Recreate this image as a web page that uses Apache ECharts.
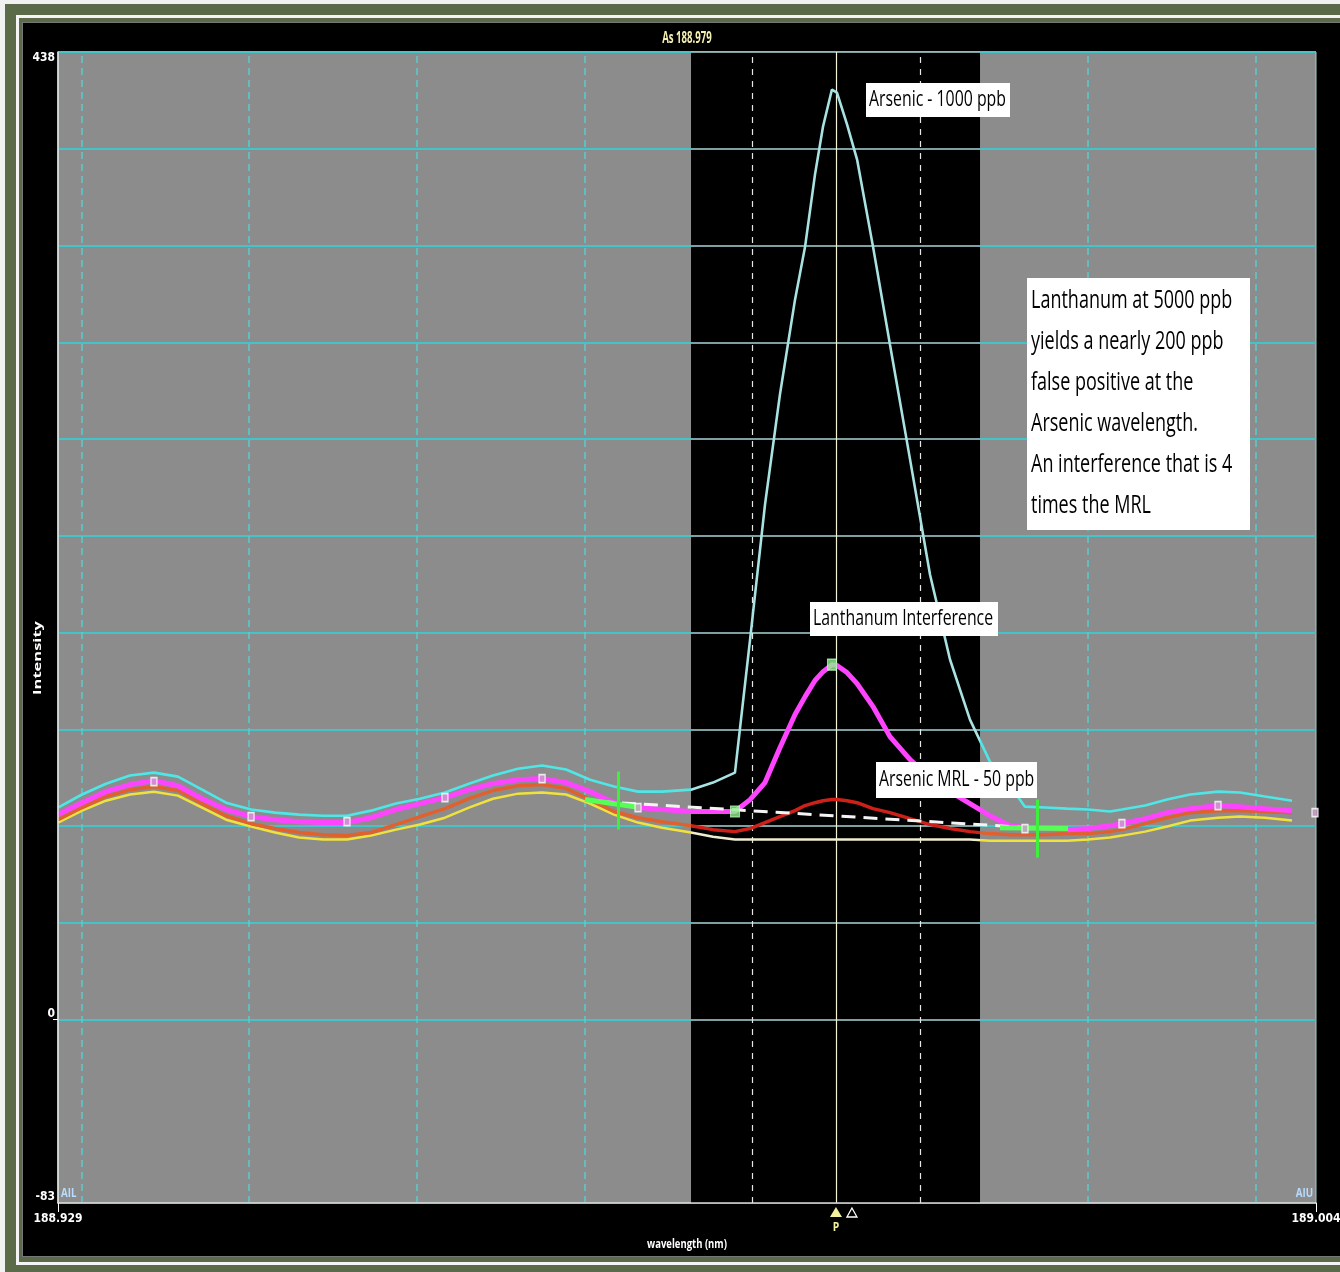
<!DOCTYPE html>
<html>
<head>
<meta charset="utf-8">
<script src="https://cdn.jsdelivr.net/npm/echarts@6/dist/echarts.min.js"></script>
<style>
  body { margin: 0; background: #f1f1f1; overflow: hidden; }
  #frame { position: absolute; left: 5px; top: 4px; width: 1335px; height: 1268px; background: #5b6a48; }
  #rule { position: absolute; left: 16px; top: 15px; width: 1330px; height: 1244px; border: 3px solid #f4f4f4; }
  #panel { position: absolute; left: 23px; top: 23px; width: 1317px; height: 1233px; background: #000; box-shadow: 0 0 0 1px #777; }
  #chart { position: absolute; left: 0; top: 0; width: 1340px; height: 1272px; }
</style>
</head>
<body>
<div id="frame"></div>
<div id="rule"></div>
<div id="panel"></div>
<div id="chart"></div>
<script>
// axis range
const wlMin = 188.929, wlMax = 189.004;
const yMin = -83, yMax = 438;
const axisLabelsX = [188.929, 189.004];
const axisLabelsY = [-83, 0, 438];

// shaded peak window and the peak line
const bandStart = 188.96674, bandEnd = 188.98397;
const peakLine = 188.97538;

// grid lines
const gridLevels = [0, 43.8, 87.6, 131.4, 175.2, 219, 262.8, 306.6, 350.4, 394.2, 438];
const gridWl = [188.9304, 188.9404, 188.9504, 188.9604, 188.9704, 188.9804, 188.9904, 189.0004];

// spectra (wavelength in nm, intensity)
const wavelength = [
  188.92900, 188.93043, 188.93186, 188.93329, 188.93472, 188.93615, 188.93759, 188.93902,
  188.94051, 188.94194, 188.94337, 188.94480, 188.94623, 188.94766, 188.94915, 188.95058,
  188.95207, 188.95350, 188.95493, 188.95642, 188.95786, 188.95929, 188.96072, 188.96215,
  188.96358, 188.96501, 188.96674, 188.96805, 188.96936, 188.97026, 188.97115, 188.97204,
  188.97294, 188.97354, 188.97413, 188.97461, 188.97514, 188.97544, 188.97604, 188.97664,
  188.97759, 188.97860, 188.97980, 188.98099, 188.98218, 188.98337, 188.98456, 188.98576,
  188.98665, 188.98784, 188.98916, 188.99041, 188.99172, 188.99243, 188.99381, 188.99512,
  188.99649, 188.99816, 188.99947, 189.00096, 189.00257
];
const arsenic1000 = [
  96.0, 101.9, 106.8, 110.5, 111.8, 110.0, 104.1, 98.2,
  95.1, 93.7, 92.8, 92.3, 92.3, 94.6, 97.8, 100.0,
  102.8, 106.8, 110.5, 113.6, 115.0, 113.2, 108.6, 105.5,
  103.2, 103.2, 104.1, 107.3, 111.8, 172.0, 233.1, 282.9,
  325.9, 349.9, 382.5, 404.3, 421.0, 419.6, 405.2, 389.3,
  349.9, 305.6, 253.5, 201.4, 163.0, 135.8, 116.8, 105.9,
  96.4, 96.0, 95.5, 95.1, 94.2, 95.1, 96.9, 99.6,
  101.9, 103.2, 102.8, 101.0, 99.1
];
const lanthanum5000 = [
  92.8, 98.2, 103.2, 106.4, 108.2, 105.9, 100.0, 95.1,
  91.9, 90.5, 89.6, 89.2, 89.2, 91.4, 95.1, 97.8,
  100.5, 104.1, 106.8, 108.6, 109.1, 107.3, 103.2, 98.2,
  96.0, 95.1, 94.2, 94.2, 94.2, 99.6, 107.3, 123.1,
  138.1, 146.2, 153.5, 157.5, 160.7, 160.3, 157.1, 152.1,
  141.7, 128.1, 117.7, 109.6, 103.2, 97.8, 92.3, 87.8,
  86.9, 86.5, 86.0, 86.5, 87.8, 88.7, 91.0, 93.7,
  95.5, 96.9, 96.4, 95.5, 94.6
];
const arsenicMrl = [
  90.5, 96.0, 101.0, 104.1, 105.5, 103.7, 97.8, 92.3,
  88.7, 86.5, 84.7, 83.7, 83.3, 84.7, 88.3, 91.9,
  95.5, 100.0, 103.7, 105.9, 106.4, 104.6, 99.6, 94.2,
  91.4, 89.6, 87.8, 86.0, 85.1, 86.5, 89.2, 91.9,
  94.6, 96.9, 98.2, 99.1, 99.6, 99.6, 99.1, 98.2,
  95.5, 93.7, 91.0, 88.3, 86.5, 85.1, 84.2, 83.7,
  83.7, 83.7, 84.2, 84.2, 85.1, 86.0, 88.7, 91.4,
  93.7, 94.6, 94.6, 94.2, 93.7
];
const blank = [
  89.2, 94.6, 99.1, 101.9, 103.2, 101.4, 96.0, 90.5,
  87.4, 84.7, 82.4, 81.5, 81.5, 83.3, 86.0, 88.3,
  91.4, 96.0, 100.0, 102.3, 102.8, 101.9, 97.8, 92.8,
  89.2, 86.9, 84.7, 82.8, 81.5, 81.5, 81.5, 81.5,
  81.5, 81.5, 81.5, 81.5, 81.5, 81.5, 81.5, 81.5,
  81.5, 81.5, 81.5, 81.5, 81.5, 81.5, 81.0, 81.0,
  81.0, 81.0, 81.0, 81.5, 82.4, 83.3, 85.1, 87.4,
  90.1, 91.4, 91.9, 91.4, 90.1
];

// background correction line and points
const baseWl = [188.96131, 188.98695];
const baseVal = [98.7, 86.9];
const markerWl = [188.93472, 188.94051, 188.94623, 188.95207, 188.95786, 188.96358, 188.98665, 188.99243, 188.99816, 189.00394];
const markerVal = [107.7, 91.9, 89.6, 100.5, 109.1, 96.0, 86.5, 88.7, 96.9, 93.7];
const peakPtWl = [188.96936, 188.97514];
const peakPtVal = [94.2, 160.7];

// background windows (green)
const crossWl = [188.96239, 188.98737];
const crossLow = [86.0, 73.3];
const crossHigh = [112.3, 99.6];
const winStartWl = [188.96042, 188.98516];
const winStartVal = [99.6, 86.9];
const winEndWl = [188.96370, 188.98922];
const winEndVal = [96.0, 86.5];

const toPairs = (xs, ys) => xs.map((x, i) => [x, ys[i]]);

const gridCyan = { color: '#44c4c8', width: 2, type: 'solid' };
const gridPale = { color: '#a9d6d6', width: 1.5, type: 'solid' };

const hLines = [];
gridLevels.forEach(v => {
  hLines.push([{ coord: [wlMin, v], lineStyle: gridCyan }, { coord: [bandStart, v] }]);
  hLines.push([{ coord: [bandStart, v], lineStyle: gridPale }, { coord: [bandEnd, v] }]);
  hLines.push([{ coord: [bandEnd, v], lineStyle: gridCyan }, { coord: [wlMax, v] }]);
});
const vLines = gridWl.map(w => {
  const inBand = w > bandStart && w < bandEnd;
  return {
    xAxis: w,
    lineStyle: inBand
      ? { color: '#e6e6e6', width: 1.2, type: [6, 6] }
      : { color: '#5ccaca', width: 1.5, type: [7, 5] }
  };
});
vLines.push({ xAxis: peakLine, lineStyle: { color: '#f2f0d8', width: 1.2, type: 'solid' } });

const greenLines = [];
crossWl.forEach((w, i) => {
  greenLines.push([{ coord: [winStartWl[i], winStartVal[i]], lineStyle: { color: '#55ff55', width: 5, type: 'solid' } }, { coord: [winEndWl[i], winEndVal[i]] }]);
  greenLines.push([{ coord: [w, crossLow[i]], lineStyle: { color: '#3cf03c', width: 3, type: 'solid' } }, { coord: [w, crossHigh[i]] }]);
});

const bandPieces = (outside, inside) => [
  { lt: bandStart, color: outside },
  { gte: bandStart, lte: bandEnd, color: inside },
  { gt: bandEnd, color: outside }
];

const labelFont = '"Liberation Sans Narrow", "DejaVu Sans Condensed", "Roboto", sans-serif';

const chart = echarts.init(document.getElementById('chart'));

chart.setOption({
  animation: false,
  backgroundColor: 'transparent',
  grid: {
    left: 58, top: 52, right: 24, bottom: 69, outerBoundsMode: 'none',
    show: true, backgroundColor: '#8c8c8c', borderWidth: 1, borderColor: '#a6cccc'
  },
  xAxis: {
    type: 'value', min: wlMin, max: wlMax, z: 10,
    axisLine: { onZero: false, lineStyle: { color: '#d8d8d8', width: 1.5 } },
    axisTick: { show: true, customValues: axisLabelsX, length: 9, lineStyle: { color: '#fff' } },
    axisLabel: { customValues: axisLabelsX, formatter: v => v.toFixed(3), color: '#fff', fontFamily: labelFont, fontWeight: 'bold', fontSize: 12, margin: 10 },
    splitLine: { show: false }
  },
  yAxis: {
    type: 'value', min: yMin, max: yMax, z: 10,
    axisLine: { show: true, lineStyle: { color: '#e6e6e6', width: 1.5 } },
    axisTick: { show: true, customValues: [0], length: 5, lineStyle: { color: '#fff' } },
    axisLabel: { customValues: axisLabelsY, color: '#fff', fontFamily: labelFont, fontWeight: 'bold', fontSize: 12, margin: 3, verticalAlign: 'bottom', verticalAlignMaxLabel: 'top' },
    splitLine: { show: false }
  },
  visualMap: [
    { type: 'piecewise', show: false, seriesIndex: 2, dimension: 0, pieces: bandPieces('#f0e23c', '#efedcf') },
    { type: 'piecewise', show: false, seriesIndex: 3, dimension: 0, pieces: bandPieces('#e0602e', '#cc2018') },
    { type: 'piecewise', show: false, seriesIndex: 5, dimension: 0, pieces: bandPieces('#4ee6e6', '#a8e2e2') }
  ],
  series: [
    {
      name: 'window', type: 'line', data: [], z: 1, silent: true,
      markArea: { silent: true, z: 1, precision: 6, itemStyle: { color: '#000', opacity: 1 }, data: [[{ xAxis: bandStart }, { xAxis: bandEnd }]] }
    },
    {
      name: 'grid', type: 'line', data: [], z: 2, silent: true,
      markLine: { silent: true, z: 2, precision: 6, symbol: ['none', 'none'], label: { show: false }, data: hLines.concat(vLines) }
    },
    {
      name: 'Blank', type: 'line', z: 3, showSymbol: false, silent: true,
      lineStyle: { width: 2.5 }, data: toPairs(wavelength, blank)
    },
    {
      name: 'Arsenic MRL - 50 ppb', type: 'line', z: 4, showSymbol: false, silent: true,
      lineStyle: { width: 3.5 }, data: toPairs(wavelength, arsenicMrl)
    },
    {
      name: 'Lanthanum Interference', type: 'line', z: 5, showSymbol: false, silent: true,
      lineStyle: { width: 5, color: '#ff44ff' }, itemStyle: { color: '#ff44ff' }, data: toPairs(wavelength, lanthanum5000)
    },
    {
      name: 'Arsenic - 1000 ppb', type: 'line', z: 6, showSymbol: false, silent: true,
      lineStyle: { width: 2.6 }, data: toPairs(wavelength, arsenic1000)
    },
    {
      name: 'baseline', type: 'line', z: 7, showSymbol: false, silent: true,
      lineStyle: { width: 3, color: '#f4f4f4', type: [14, 8] }, data: toPairs(baseWl, baseVal)
    },
    {
      name: 'background windows', type: 'line', data: [], z: 8, silent: true,
      markLine: { silent: true, z: 8, precision: 6, symbol: ['none', 'none'], label: { show: false }, data: greenLines }
    },
    {
      name: 'points', type: 'scatter', z: 9, silent: true, symbol: 'rect', symbolSize: [6, 8],
      itemStyle: { color: '#c9a0c9', borderColor: '#fff', borderWidth: 1.5 }, data: toPairs(markerWl, markerVal)
    },
    {
      name: 'peak points', type: 'scatter', z: 9, silent: true, symbol: 'rect', symbolSize: [9, 11],
      itemStyle: { color: '#8cf58c', borderColor: '#c8ffc8', borderWidth: 1 }, data: toPairs(peakPtWl, peakPtVal)
    }
  ]
});

const px = chart.convertToPixel({ xAxisIndex: 0 }, peakLine);
const textEl = (x, y, text, font, fill, extra) => Object.assign({
  type: 'text', x: x, y: y, z: 101,
  style: Object.assign({ text: text, font: font, fill: fill, align: 'left', verticalAlign: 'middle' }, (extra && extra.style) || {})
}, extra ? { scaleX: extra.scaleX || 1, rotation: extra.rotation || 0 } : {});
const box = (x, y, w, h) => ({ type: 'rect', z: 100, shape: { x: x, y: y, width: w, height: h }, style: { fill: '#fff' } });
const calloutFont = s => s + 'px "Open Sans", sans-serif';

chart.setOption({
  graphic: [
    textEl(687, 38, 'As 188.979', 'bold 16px "Open Sans", sans-serif', '#f4f0b4', { scaleX: 0.6, style: { align: 'center' } }),
    textEl(38, 658, 'Intensity', 'bold 11px "Open Sans", sans-serif', '#fff', { scaleX: 1.5, rotation: Math.PI / 2, style: { align: 'center' } }),
    textEl(687, 1244, 'wavelength (nm)', 'bold 13px "Open Sans", sans-serif', '#fff', { scaleX: 0.73, style: { align: 'center' } }),
    textEl(61, 1193, 'AIL', 'bold 13px "Open Sans", sans-serif', '#b8dcff', { scaleX: 0.75 }),
    textEl(1313, 1193, 'AIU', 'bold 13px "Open Sans", sans-serif', '#b8dcff', { scaleX: 0.75, style: { align: 'right' } }),

    box(866, 83, 144, 34),
    textEl(869, 100, 'Arsenic - 1000 ppb', calloutFont(22), '#000', { scaleX: 0.72 }),
    box(1027, 278, 223, 252),
    textEl(1031, 280, 'Lanthanum at 5000 ppb\nyields a nearly 200 ppb\nfalse positive at the\nArsenic wavelength.\nAn interference that is 4\ntimes the MRL',
      calloutFont(25), '#000', { scaleX: 0.72, style: { verticalAlign: 'top', lineHeight: 41 } }),
    box(810, 602, 188, 34),
    textEl(813, 619, 'Lanthanum Interference', calloutFont(22), '#000', { scaleX: 0.72 }),
    box(876, 762, 161, 36),
    textEl(879, 780, 'Arsenic MRL - 50 ppb', calloutFont(22), '#000', { scaleX: 0.72 }),

    { type: 'polygon', z: 101, shape: { points: [[px - 6, 1217], [px + 6, 1217], [px, 1207]] }, style: { fill: '#f3f0a0' } },
    textEl(px, 1227, 'P', 'bold 13px "Open Sans", sans-serif', '#f3f0a0', { scaleX: 0.8, style: { align: 'center' } }),
    { type: 'polygon', z: 101, shape: { points: [[px + 11, 1217], [px + 21, 1217], [px + 16, 1208]] }, style: { fill: 'none', stroke: '#fff', lineWidth: 1.3 } }
  ]
});
</script>
</body>
</html>
